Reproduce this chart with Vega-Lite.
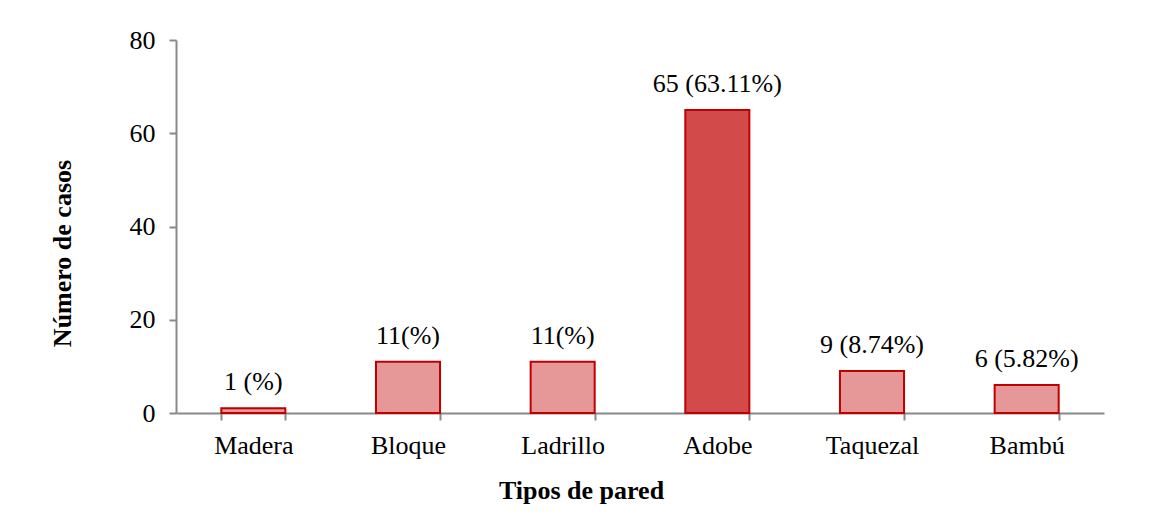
{
  "$schema": "https://vega.github.io/schema/vega-lite/v6.json",
  "autosize": "none",
  "width": 928,
  "height": 373,
  "padding": {"left": 176, "top": 40, "right": 55, "bottom": 114},
  "background": "white",
  "config": {
    "view": {"stroke": null},
    "font": "Times New Roman, Liberation Serif, serif"
  },
  "data": {
    "values": [
      {"tipo": "Madera", "casos": 1, "etiqueta": "1 (%)", "grupo": "otro"},
      {"tipo": "Bloque", "casos": 11, "etiqueta": "11(%)", "grupo": "otro"},
      {"tipo": "Ladrillo", "casos": 11, "etiqueta": "11(%)", "grupo": "otro"},
      {"tipo": "Adobe", "casos": 65, "etiqueta": "65 (63.11%)", "grupo": "adobe"},
      {"tipo": "Taquezal", "casos": 9, "etiqueta": "9 (8.74%)", "grupo": "otro"},
      {"tipo": "Bambú", "casos": 6, "etiqueta": "6 (5.82%)", "grupo": "otro"}
    ]
  },
  "encoding": {
    "x": {
      "field": "tipo",
      "type": "nominal",
      "sort": null,
      "scale": {"paddingInner": 0.586, "paddingOuter": 0.293},
      "axis": {
        "title": "Tipos de pared",
        "labelAngle": 0,
        "labelFont": "Times New Roman, Liberation Serif, serif",
        "labelFontSize": 26,
        "labelColor": "#000000",
        "labelBaseline": "alphabetic",
        "labelPadding": 33,
        "tickBand": "extent",
        "tickSize": 7,
        "tickColor": "#898989",
        "tickWidth": 2,
        "domainColor": "#898989",
        "domainWidth": 2,
        "titleFont": "Times New Roman, Liberation Serif, serif",
        "titleFontSize": 26,
        "titleFontWeight": "bold",
        "titleColor": "#000000",
        "titleX": 405,
        "titleY": 85,
        "titleBaseline": "alphabetic",
        "titleAlign": "center"
      }
    },
    "y": {
      "field": "casos",
      "type": "quantitative",
      "scale": {"domain": [0, 80]},
      "axis": {
        "title": "Número de casos",
        "values": [0, 20, 40, 60, 80],
        "grid": false,
        "labelFont": "Times New Roman, Liberation Serif, serif",
        "labelFontSize": 26,
        "labelColor": "#000000",
        "labelPadding": 14,
        "tickSize": 7,
        "tickColor": "#898989",
        "tickWidth": 2,
        "domainColor": "#898989",
        "domainWidth": 2,
        "titleFont": "Times New Roman, Liberation Serif, serif",
        "titleFontSize": 26,
        "titleFontWeight": "bold",
        "titleColor": "#000000",
        "titleAngle": -90,
        "titleX": -114,
        "titleY": 213,
        "titleBaseline": "middle",
        "titleAlign": "center"
      }
    }
  },
  "layer": [
    {
      "mark": {"type": "bar", "stroke": "#c00000", "strokeWidth": 2},
      "encoding": {
        "fill": {
          "field": "grupo",
          "type": "nominal",
          "scale": {"domain": ["adobe", "otro"], "range": ["#d24a4a", "#e69898"]},
          "legend": null
        }
      }
    },
    {
      "mark": {"type": "text", "baseline": "alphabetic", "dy": -18, "fontSize": 26, "font": "Times New Roman, Liberation Serif, serif", "color": "#000000"},
      "encoding": {
        "text": {"field": "etiqueta"}
      }
    }
  ]
}
